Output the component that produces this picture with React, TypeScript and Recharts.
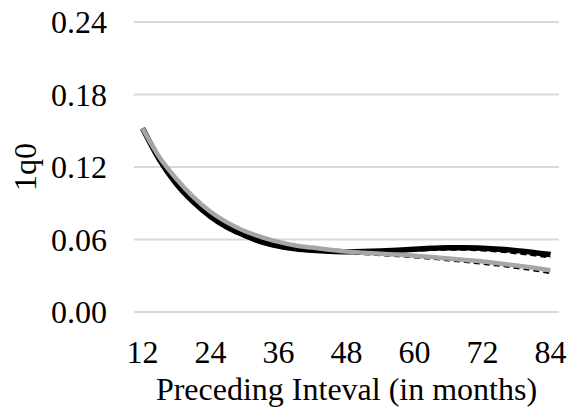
import React from 'react';
import { LineChart, Line, XAxis, YAxis, CartesianGrid } from 'recharts';

const months = [12, 15, 18, 21, 24, 27, 30, 33, 36, 39, 42, 45, 48, 51, 54, 57, 60, 63, 66, 69, 72, 75, 78, 81, 84];
const blackSeries = [0.152, 0.126, 0.106, 0.091, 0.079, 0.070, 0.0635, 0.058, 0.0545, 0.0523, 0.051, 0.0502, 0.0498, 0.05, 0.0505, 0.0512, 0.052, 0.0527, 0.0532, 0.0532, 0.0528, 0.052, 0.0508, 0.0493, 0.0475];
const graySeries = [0.152, 0.128, 0.11, 0.095, 0.083, 0.074, 0.067, 0.062, 0.058, 0.055, 0.0533, 0.0515, 0.05, 0.049, 0.0482, 0.0475, 0.0466, 0.0455, 0.0443, 0.043, 0.0418, 0.0402, 0.0385, 0.0366, 0.0345];
const blackLower = [0.151, 0.1245, 0.1045, 0.0895, 0.0775, 0.0685, 0.062, 0.0567, 0.0533, 0.0512, 0.05, 0.0493, 0.049, 0.0491, 0.0495, 0.05, 0.0507, 0.0512, 0.0515, 0.0514, 0.0508, 0.0498, 0.0484, 0.0468, 0.045];
const grayLower = [0.1515, 0.1275, 0.1094, 0.0944, 0.0824, 0.0734, 0.0664, 0.0613, 0.0573, 0.0542, 0.0524, 0.0505, 0.0489, 0.0478, 0.0469, 0.0461, 0.0451, 0.0439, 0.0426, 0.0412, 0.0398, 0.0381, 0.0363, 0.0343, 0.032];
const yTicks = [0, 0.06, 0.12, 0.18, 0.24];

const data = months.map((m, i) => ({
  month: m,
  black: blackSeries[i],
  gray: graySeries[i],
  blackLow: blackLower[i],
  grayLow: grayLower[i],
}));

const FONT = "'Liberation Serif', Tinos, 'Noto Serif', 'DejaVu Serif', FreeSerif, 'Nimbus Roman', 'Times New Roman', Times, serif";
const textStyle = { fontFamily: FONT };

export default function App() {
  return (
    <div style={{ position: 'absolute', left: 0, top: 0, width: 574, height: 417, background: '#fff', fontFamily: FONT }}>
      <LineChart width={574} height={417} data={data} margin={{ top: 22, right: 15, bottom: 0, left: 0 }} style={textStyle}>
        <CartesianGrid horizontal vertical={false} stroke="#d9d9d9" strokeWidth={2} />
        <XAxis
          dataKey="month"
          type="category"
          interval={3}
          height={105}
          padding={{ left: 8.5, right: 8.5 }}
          axisLine={false}
          tickLine={false}
          tickSize={0}
          tickMargin={28}
          tick={{ fill: '#000', fontSize: 32, fontFamily: FONT }}
          label={{ value: 'Preceding Inteval (in months)', position: 'insideBottom', offset: 17, fill: '#000', fontSize: 32, fontFamily: FONT }}
        />
        <YAxis
          type="number"
          domain={[0, 0.24]}
          ticks={yTicks}
          width={134}
          axisLine={false}
          tickLine={false}
          tickSize={0}
          tickMargin={27}
          tickFormatter={(v: number) => v.toFixed(2)}
          tick={{ fill: '#000', fontSize: 32, fontFamily: FONT }}
          label={{
            content: (props: any) => {
              const vb = props.viewBox || {};
              const cy = (vb.y || 0) + (vb.height || 0) / 2;
              return (
                <text
                  transform={`translate(25, ${cy}) rotate(-90)`}
                  textAnchor="middle"
                  dominantBaseline="central"
                  fill="#000"
                  fontSize={32}
                  fontFamily={FONT}
                >
                  1q0
                </text>
              );
            },
          }}
        />
        <Line dataKey="blackLow" type="monotone" stroke="#000" strokeWidth={1.8} strokeDasharray="6 4" dot={false} isAnimationActive={false} />
        <Line dataKey="grayLow" type="monotone" stroke="#000" strokeWidth={1.8} strokeDasharray="6 4" dot={false} isAnimationActive={false} />
        <Line dataKey="black" type="monotone" stroke="#000" strokeWidth={5.5} dot={false} isAnimationActive={false} />
        <Line dataKey="gray" type="monotone" stroke="#a6a6a6" strokeWidth={4.5} dot={false} isAnimationActive={false} />
      </LineChart>
    </div>
  );
}
